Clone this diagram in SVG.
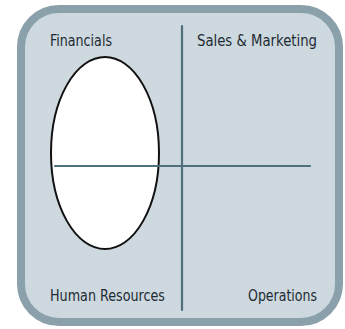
<svg xmlns="http://www.w3.org/2000/svg" width="345" height="329" viewBox="0 0 345 329">
<style>
.lbl{font-family:"DejaVu Sans Condensed","DejaVu Sans","Liberation Sans",sans-serif;font-size:16px;fill:#1e2b33;}
.div{stroke:#4f6f7f;stroke-width:2.2;fill:none;stroke-linecap:round;}
</style>
<rect width="345" height="329" fill="#ffffff"/>
<g id="frame">
<rect x="21" y="9" width="318" height="313" rx="38" ry="38" fill="#cdd8df" stroke="#8aa0ab" stroke-width="8"/>
</g>
<g id="oval">
<ellipse cx="105" cy="153" rx="54" ry="96" fill="#ffffff" stroke="#111111" stroke-width="2"/>
</g>
<g id="connectors">
<line class="div" x1="182" y1="26" x2="182" y2="310"/>
<line class="div" x1="55" y1="166" x2="310" y2="166"/>
</g>
<g id="financials"><text class="lbl" x="50" y="46" textLength="62" lengthAdjust="spacingAndGlyphs">Financials</text></g>
<g id="sales"><text class="lbl" x="197" y="46" textLength="120" lengthAdjust="spacingAndGlyphs">Sales &amp; Marketing</text></g>
<g id="hr"><text class="lbl" x="50" y="301" textLength="115" lengthAdjust="spacingAndGlyphs">Human Resources</text></g>
<g id="operations"><text class="lbl" x="248" y="301" textLength="69" lengthAdjust="spacingAndGlyphs">Operations</text></g>
</svg>
